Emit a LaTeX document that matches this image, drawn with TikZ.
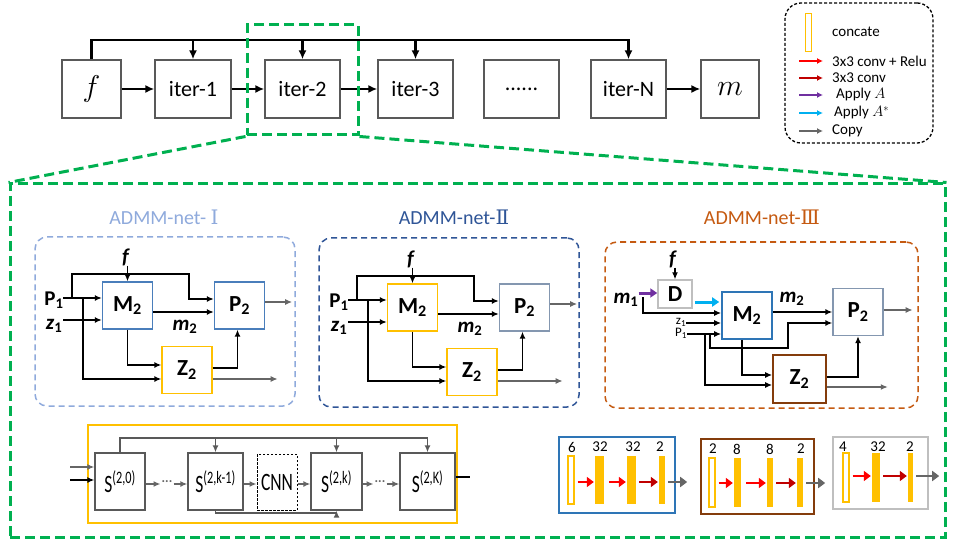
\RequirePackage{fix-cm}
\documentclass[tikz,border=0pt]{standalone}
\usepackage{fontspec}
\setmainfont{Carlito}
\newfontfamily\romfont{DejaVu Serif}
\usepackage{graphicx}
\usetikzlibrary{arrows.meta}
\newcommand\fsz[1]{\fontsize{#1}{#1}\selectfont}
\definecolor{greenc}{HTML}{00B050}
\definecolor{boxgray}{HTML}{595959}
\definecolor{admmI}{HTML}{8FAADC}
\definecolor{admmII}{HTML}{2F5597}
\definecolor{admmIII}{HTML}{C55A11}
\definecolor{bluebox}{HTML}{4A7EBB}
\definecolor{pgray}{HTML}{8497B0}
\definecolor{yell}{HTML}{FFC000}
\definecolor{brownc}{HTML}{843C0C}
\definecolor{mblue}{HTML}{2E75B6}
\definecolor{redc}{HTML}{FF0000}
\definecolor{dredc}{HTML}{C00000}
\definecolor{purp}{HTML}{7030A0}
\definecolor{cyanc}{HTML}{00B0F0}
\definecolor{copyg}{HTML}{666666}
\definecolor{lgray}{HTML}{BFBFBF}

\newcommand\admmblk[4]{%
  \node[blk, draw=#2] (M#1) at (127.5,305.5) {M\textsubscript{2}};
  \node[blk, draw=#3] (P#1) at (239.5,305.5) {P\textsubscript{2}};
  \node[blk, draw=#4] (Z#1) at (187,370) {Z\textsubscript{2}};
  \node[lbl] (f#1) at (126,257) {\textit{f}};
  \node[lbl] (p#1) at (54,300) {P\textsubscript{1}};
  \node[lbl] (z#1) at (54,326) {\textit{z}\textsubscript{1}};
  \node[lbl] (m#1) at (185,327) {\textit{m}\textsubscript{2}};
  \coordinate (pi#1) at (63,298);
  \coordinate (zi#1) at (63,320);
  \coordinate (la#1) at (72,298);
  \coordinate (lb#1) at (83,298);
  \draw[arr] (f#1.south -| M#1.north) -- (M#1.north);
  \draw[arr] (pi#1) -- (pi#1 -| M#1.west);
  \draw[arr] (zi#1) -- (zi#1 -| M#1.west);
  \draw[arr] (la#1) |- (189,274) -- (189,299) -- (P#1.west |- 0,299);
  \draw[arr] (lb#1) |- (Z#1.west |- 0,379);
  \draw[arr] (M#1.east |- 0,312) -- (P#1.west |- 0,312);
  \draw[arr] (M#1.south) |- (Z#1.west |- 0,365);
  \draw[arr] (Z#1.east |- 0,368) -| ([xshift=-2pt]P#1.south);
  \draw[garr] (P#1.east |- 0,302) -- ++(27,0);
  \draw[garr] (Z#1.east |- 0,379) -- ++(65,0);
}

\begin{document}
\begin{tikzpicture}[x=1pt,y=-1pt,
  topbox/.style={draw=boxgray, line width=1.3pt, minimum height=58pt, inner sep=0pt, font=\fsz{22}},
  thkarr/.style={line width=2.2pt, -{Latex[length=9pt,width=8pt]}},
  gdash/.style={draw=greenc, line width=3pt, dash pattern=on 10pt off 5pt, inner sep=0pt},
  blk/.style={draw, line width=1.3pt, inner sep=0pt, minimum width=50pt, minimum height=47pt, font=\fsz{23}\bfseries},
  lbl/.style={inner sep=0pt, font=\fsz{21}\bfseries},
  slbl/.style={inner sep=0pt, font=\fsz{13}},
  arr/.style={line width=1.4pt, -{Latex[length=7pt,width=6pt]}},
  garr/.style={arr, draw=copyg},
  dashbox/.style={line width=1.5pt, dash pattern=on 6pt off 4pt, rounded corners=12pt, inner sep=0pt},
  title/.style={inner sep=0pt, font=\fsz{20}},
  legtxt/.style={anchor=west, inner sep=0pt, font=\fsz{15}},
  larr/.style={line width=1.6pt, -{Latex[length=6pt,width=6pt]}},
  sbox/.style={draw=boxgray, line width=1.3pt, minimum height=57pt, inner sep=0pt, font=\fsz{25}},
  barc/.style={draw=yell, fill=white, line width=1.3pt, inner sep=0pt},
  bary/.style={fill=yell, inner sep=0pt},
  num/.style={inner sep=0pt, font=\fsz{15}},
  barr/.style={line width=2.8pt, -{Triangle[length=7pt,width=10pt]}, shorten <=3pt, shorten >=1pt},
]
\useasboundingbox (0,0) rectangle (953,540);

% ---------- top row ----------
\node[topbox, minimum width=59pt] (f) at (91.5,89) {\fsz{30}$f$};
\node[topbox, minimum width=76pt] (it1) at (193,89) {iter-1};
\node[topbox, minimum width=75pt] (it2) at (302.5,89) {iter-2};
\node[topbox, minimum width=75pt] (it3) at (415.5,89) {iter-3};
\node[topbox, minimum width=75pt] (itd) at (521.5,89) {......};
\node[topbox, minimum width=75pt] (itN) at (628.5,89) {iter-N};
\node[topbox, minimum width=58pt] (m) at (730,89) {\fsz{30}$m$};
\coordinate (topy) at (0,40);
\draw[thkarr] (f.north) |- (itN.north |- topy) -- (itN.north);
\foreach \n in {it1,it2,it3} \draw[thkarr] (\n.north |- topy) -- (\n.north);
\draw[thkarr] (f) -- (it1);
\draw[thkarr] (it1) -- (it2);
\draw[thkarr] (it2) -- (it3);
\draw[thkarr] (itN) -- (m);

% ---------- legend ----------
\node[draw=black, line width=1.3pt, dash pattern=on 3pt off 2pt, rounded corners=16pt, minimum width=148pt, minimum height=140pt, inner sep=0pt] (leg) at (859,73) {};
\node[barc, minimum width=6pt, minimum height=38pt] (lcc) at (808.5,32.5) {};
\node[legtxt] (lg1) at (832,32) {concate};
\node[legtxt] (lg2) at (832,61) {3x3 conv + Relu};
\node[legtxt] (lg3) at (832,78) {3x3 conv};
\node[legtxt] (lg4) at (836,95) {Apply $A$};
\node[legtxt] (lg5) at (834,113) {Apply $A^{*}$};
\node[legtxt] (lg6) at (832,131) {Copy};
\draw[larr, draw=redc] ([xshift=-33pt]lg2.west) -- ([xshift=-9pt]lg2.west);
\draw[larr, draw=dredc] ([xshift=-33pt]lg3.west) -- ([xshift=-9pt]lg3.west);
\draw[larr, draw=purp] ([xshift=-37pt]lg4.west) -- ([xshift=-13pt]lg4.west);
\draw[larr, draw=cyanc] ([xshift=-35pt]lg5.west) -- ([xshift=-11pt]lg5.west);
\draw[larr, draw=copyg] ([xshift=-33pt]lg6.west) -- ([xshift=-9pt]lg6.west);

% ---------- green zoom ----------
\node[gdash, minimum width=111pt, minimum height=110pt] (zr) at (302.5,80) {};
\node[gdash, minimum width=935pt, minimum height=353pt] (bf) at (477.5,360.5) {};
\draw[gdash] (zr.south west) -- (bf.north west);
\draw[gdash] (zr.south east) -- (bf.north east);

% ---------- ADMM-net I ----------
\node[title, text=admmI] (t1) at (164,217) {ADMM-net- {\romfont Ⅰ}};
\node[dashbox, draw=admmI, minimum width=260pt, minimum height=169pt] (fr1) at (165,321.5) {};
\admmblk{a}{bluebox}{bluebox}{yell}

% ---------- ADMM-net II ----------
\node[title, text=admmII] (t2) at (454,217) {ADMM-net-{\romfont Ⅱ}};
\node[dashbox, draw=admmII, minimum width=260pt, minimum height=169pt] (fr2) at (449,322.5) {};
\begin{scope}[shift={(285,2)}]
\admmblk{b}{yell}{pgray}{yell}
\end{scope}

% ---------- ADMM-net III ----------
\node[title, text=admmIII] (t3) at (762,217) {ADMM-net-{\romfont Ⅲ}};
\node[dashbox, draw=admmIII, minimum width=313pt, minimum height=166pt] (fr3) at (761.5,325) {};
\node[blk, draw=lgray, line width=1.5pt, minimum width=34pt, minimum height=28pt] (D3) at (675,294) {D};
\node[blk, draw=mblue, line width=1.6pt] (M3) at (747,315.5) {M\textsubscript{2}};
\node[blk, draw=pgray] (P3) at (858,312) {P\textsubscript{2}};
\node[blk, draw=brownc, line width=1.6pt, minimum width=53pt, minimum height=48pt] (Z3) at (799.5,379) {Z\textsubscript{2}};
\node[lbl] (f3) at (673,259) {\textit{f}};
\node[lbl] (m13) at (626,300) {\textit{m}\textsubscript{1}};
\node[slbl] (z13) at (681,322) {z\textsubscript{1}};
\node[slbl] (p13) at (681,333) {P\textsubscript{1}};
\node[lbl] (m23) at (792,299) {\textit{m}\textsubscript{2}};
\coordinate (m1b) at (643,297);
\coordinate (pb1) at (705,334);
\coordinate (pb2) at (710,334);
\draw[arr, line width=1.1pt] (f3.south -| D3.north) -- (D3.north);
\draw[line width=3pt, draw=purp, -{Triangle[length=7pt,width=9pt]}] (m13.east |- 0,293) -- (D3.west |- 0,293);
\draw[line width=3pt, draw=cyanc, -{Triangle[length=7pt,width=9pt]}] ([xshift=2pt]D3.east |- 0,302) -- ([xshift=-2pt]M3.west |- 0,302);
\draw[arr] (m1b) |- (M3.west |- 0,313);
\draw[arr] (z13.east |- 0,323) -- (M3.west |- 0,323);
\draw[arr] (p13.east |- 0,334) -- (M3.west |- 0,334);
\draw[arr] (pb1) |- (Z3.west |- 0,385);
\draw[arr] (pb2) |- (788,348) |- (P3.west |- 0,323);
\draw[arr] (M3.east |- 0,312) -- (P3.west |- 0,312);
\draw[arr] ([xshift=-5pt]M3.south) |- (Z3.west |- 0,375);
\draw[arr] (Z3.east |- 0,377) -| (P3.south);
\draw[garr] (Z3.east |- 0,387) -- ++(61,0);
\draw[garr] (P3.east |- 0,310) -- ++(29,0);

% ---------- bottom-left S chain ----------
\node[draw=yell, line width=2pt, minimum width=369pt, minimum height=98pt, inner sep=0pt] (yf) at (272.5,474) {};
\node[sbox, minimum width=50pt] (S0) at (120,481.5) {\scalebox{0.7}[1]{S\textsuperscript{(2,0)}}};
\node[sbox, minimum width=55pt] (S1) at (215.5,481.5) {\scalebox{0.7}[1]{S\textsuperscript{(2,k-1)}}};
\node[sbox, minimum width=40pt, minimum height=56pt, draw=black, line width=1pt, dash pattern=on 2.5pt off 1.5pt] (cnn) at (277,482) {\scalebox{0.7}[1]{CNN}};
\node[sbox, minimum width=51pt] (S2) at (336.5,481.5) {\scalebox{0.7}[1]{S\textsuperscript{(2,k)}}};
\node[sbox, minimum width=55pt] (S3) at (427.5,481.5) {\scalebox{0.7}[1]{S\textsuperscript{(2,K)}}};
\node[inner sep=1pt, font=\fsz{14}, text=copyg] (d1) at (167,483) {···};
\node[inner sep=1pt, font=\fsz{14}, text=copyg] (d2) at (380,483) {···};
\coordinate (sty) at (0,438);
\coordinate (sby) at (0,513);
\draw[line width=1.4pt, draw=boxgray] (S0.north) |- (S3.north |- sty);
\draw[arr, draw=boxgray] (S3.north |- sty) -- (S3.north);
\draw[arr, draw=boxgray] (S1.north |- sty) -- (S1.north);
\draw[arr, draw=boxgray] (S2.north |- sty) -- (S2.north);
\draw[arr, draw=boxgray] (S1.south) |- (S2.south |- sby) -- (S2.south);
\draw[garr] (S0.east |- 0,484) -- (d1.west |- 0,484);
\draw[garr] (d1.east |- 0,484) -- (S1.west |- 0,484);
\draw[garr] (S1.east |- 0,484) -- (cnn.west |- 0,484);
\draw[garr] (cnn.east |- 0,484) -- (S2.west |- 0,484);
\draw[garr] (S2.east |- 0,484) -- (d2.west |- 0,484);
\draw[garr] (d2.east |- 0,484) -- (S3.west |- 0,484);
\coordinate (sout) at (470,477);
\draw[line width=1.6pt] (S3.east |- sout) -- (sout);
\coordinate (sin1) at (70,467);
\coordinate (sin2) at (70,480);
\draw[garr] (sin1) -- (S0.west |- sin1);
\draw[arr] (sin2) -- (S0.west |- sin2);

% ---------- bottom-right CNN blocks ----------
\node[draw=mblue, line width=1.6pt, minimum width=116pt, minimum height=76pt, inner sep=0pt] (cb1) at (617,475) {};
\node[barc, minimum width=6pt, minimum height=48pt] (c11) at (571,480) {};
\node[bary, minimum width=9pt, minimum height=48pt] (b12) at (599.5,480) {};
\node[bary, minimum width=9pt, minimum height=48pt] (b13) at (631.5,480) {};
\node[bary, minimum width=6pt, minimum height=48pt] (b14) at (662,480) {};
\node[num] (n11) at (572,447) {6};
\node[num] (n12) at (600,447) {32};
\node[num] (n13) at (633,447) {32};
\node[num] (n14) at (660,447) {2};
\draw[barr, draw=redc] (c11.east |- 0,482) -- (b12.west |- 0,482);
\draw[barr, draw=redc, shorten <=5pt] (b12.east |- 0,482) -- (b13.west |- 0,482);
\draw[barr, draw=dredc] (b13.east |- 0,482) -- (b14.west |- 0,482);
\draw[barr, draw=copyg] (b14.east |- 0,482) -- ++(23,0);

\node[draw=brownc, line width=1.6pt, minimum width=113pt, minimum height=75pt, inner sep=0pt] (cb2) at (757.5,476.5) {};
\node[barc, minimum width=6pt, minimum height=49pt] (c21) at (712,482.5) {};
\node[bary, minimum width=7pt, minimum height=49pt] (b22) at (737.5,482.5) {};
\node[bary, minimum width=6pt, minimum height=49pt] (b23) at (770,482.5) {};
\node[bary, minimum width=6pt, minimum height=49pt] (b24) at (800,482.5) {};
\node[num] (n21) at (713,449) {2};
\node[num] (n22) at (737,449) {8};
\node[num] (n23) at (770,449) {8};
\node[num] (n24) at (801,449) {2};
\draw[barr, draw=redc] (c21.east |- 0,483) -- (b22.west |- 0,483);
\draw[barr, draw=redc, shorten <=5pt] (b22.east |- 0,483) -- (b23.west |- 0,483);
\draw[barr, draw=dredc] (b23.east |- 0,483) -- (b24.west |- 0,483);
\draw[barr, draw=copyg] (b24.east |- 0,483) -- ++(23,0);

\node[draw=lgray, line width=1.8pt, minimum width=95pt, minimum height=72pt, inner sep=0pt] (cb3) at (880.5,473) {};
\node[barc, minimum width=6pt, minimum height=49pt] (c31) at (846,477.5) {};
\node[bary, minimum width=8pt, minimum height=49pt] (b32) at (876,477.5) {};
\node[bary, minimum width=5pt, minimum height=49pt] (b33) at (910.5,477.5) {};
\node[num] (n31) at (843,447) {4};
\node[num] (n32) at (878,447) {32};
\node[num] (n33) at (910,447) {2};
\draw[barr, draw=redc] (c31.east |- 0,476) -- (b32.west |- 0,476);
\draw[barr, draw=dredc] (b32.east |- 0,476) -- (b33.west |- 0,476);
\draw[barr, draw=copyg] (b33.east |- 0,476) -- ++(27,0);
\end{tikzpicture}
\end{document}
